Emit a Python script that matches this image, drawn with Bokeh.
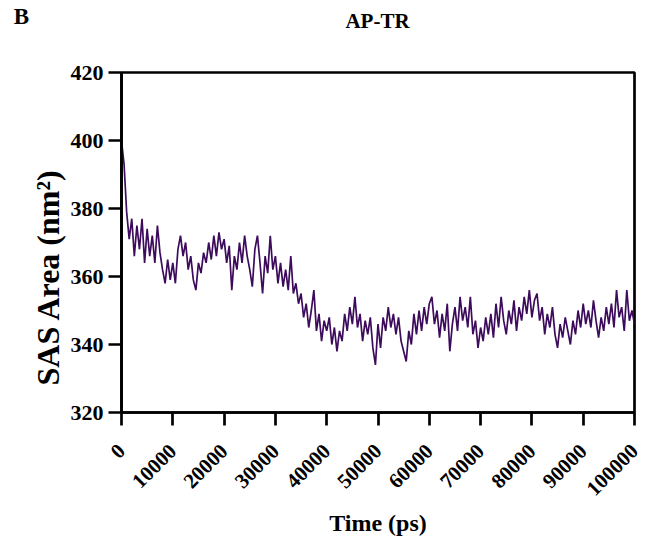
from bokeh.plotting import figure
from bokeh.models import Label, FixedTicker, BasicTickFormatter, Range1d, Title
from bokeh.layouts import column
from bokeh.embed import file_html
from bokeh.resources import INLINE
import math

time_step_ps = 500
sas_area = [
    400, 393, 379, 371, 377, 366, 375, 368, 377, 364,
    374, 366, 372, 364, 375, 367, 362, 358, 365, 359,
    364, 358, 368, 372, 366, 370, 362, 366, 359, 356,
    364, 361, 367, 364, 370, 365, 372, 366, 373, 368,
    371, 364, 369, 356, 366, 362, 370, 364, 372, 366,
    362, 357, 368, 372, 364, 355, 366, 361, 372, 362,
    366, 358, 364, 357, 362, 356, 366, 355, 358, 352,
    355, 348, 352, 345, 350, 356, 344, 349, 341, 347,
    344, 348, 340, 345, 338, 344, 341, 349, 344, 351,
    346, 354, 345, 349, 341, 347, 343, 348, 339, 334,
    346, 339, 348, 344, 351, 345, 349, 343, 348, 341,
    338, 335, 344, 340, 349, 343, 350, 344, 351, 346,
    352, 354, 346, 350, 342, 349, 344, 352, 338, 346,
    351, 344, 354, 347, 351, 345, 354, 343, 347, 339,
    345, 341, 348, 343, 349, 342, 352, 345, 354, 347,
    343, 350, 346, 353, 344, 351, 347, 354, 349, 356,
    348, 353, 355, 347, 351, 343, 349, 345, 351, 343,
    339, 346, 342, 348, 344, 340, 347, 343, 350, 345,
    352, 346, 350, 345, 353, 347, 342, 348, 344, 351,
    346, 352, 345, 356, 348, 351, 344, 356, 347, 350,
    346,
]
time_ps = [i * time_step_ps for i in range(len(sas_area))]

x_ticks = [0, 10000, 20000, 30000, 40000, 50000, 60000, 70000, 80000, 90000, 100000]
y_ticks = [320, 340, 360, 380, 400, 420]
title_text = "AP-TR"
panel_letter = "B"
x_label = "Time (ps)"
y_label = "SAS Area (nm²)"

FONT = "Liberation Serif"
HEADER_H = 60

# header strip holding the panel letter and the title (pixel coordinates)
hdr = figure(width=652, height=HEADER_H, output_backend="svg", toolbar_location=None,
             x_range=Range1d(0, 652), y_range=Range1d(HEADER_H, 0),
             x_axis_location=None, y_axis_location=None,
             min_border=0, min_border_left=0, min_border_right=0,
             min_border_top=0, min_border_bottom=0)
if "frame_align" in hdr.properties():
    hdr.frame_align = False
hdr.grid.visible = False
hdr.outline_line_color = None
hdr.add_layout(Label(x=21, y=16, text=panel_letter, text_font=FONT, text_font_style="bold",
                     text_font_size="23px", text_align="center", text_baseline="middle",
                     text_color="black"))
hdr.add_layout(Label(x=377, y=20, text=title_text, text_font=FONT, text_font_style="bold",
                     text_font_size="21px", text_align="center", text_baseline="middle",
                     text_color="black"))

p = figure(width=652, height=544 - HEADER_H, output_backend="svg", toolbar_location=None,
           x_range=(0, 100000), y_range=(320, 420),
           min_border_left=121, min_border_right=18, min_border_top=72 - HEADER_H,
           min_border_bottom=132)
if "frame_align" in p.properties():
    p.frame_align = False

p.line(time_ps, sas_area, line_color="#3d0b5c", line_width=1.7)

p.grid.visible = False
p.outline_line_color = "black"
p.outline_line_width = 2.7

for ax in (p.xaxis[0], p.yaxis[0]):
    ax.axis_line_width = 2.7
    ax.axis_line_color = "black"
    ax.major_tick_line_width = 2.7
    ax.major_tick_in = 0
    ax.major_tick_out = 13
    ax.minor_tick_line_color = None
    ax.major_label_text_font = FONT
    ax.major_label_text_font_style = "bold"
    ax.major_label_text_color = "black"
    ax.axis_label_text_font = FONT
    ax.axis_label_text_font_style = "bold"
    ax.axis_label_text_color = "black"

p.xaxis[0].major_label_text_font_size = "21px"
p.yaxis[0].major_label_text_font_size = "22px"
p.xaxis[0].ticker = FixedTicker(ticks=x_ticks)
p.xaxis[0].formatter = BasicTickFormatter(use_scientific=False)
p.yaxis[0].ticker = FixedTicker(ticks=y_ticks)
p.xaxis[0].major_label_orientation = math.pi / 4
p.xaxis[0].axis_label = x_label
p.xaxis[0].axis_label_text_font_size = "24px"
p.xaxis[0].axis_label_standoff = 5
p.xaxis[0].major_label_standoff = 22
p.yaxis[0].major_label_standoff = 5

# y-axis title as a side-panel title, started near the bottom of the axis
ytitle = Title(text=y_label, align="left", offset=27, text_font=FONT,
               text_font_style="bold", text_font_size="32px", text_color="black")
if "standoff" in Title.properties():
    ytitle.standoff = 4
p.add_layout(ytitle, "left")

open("out.html", "w").write(file_html(column(hdr, p, spacing=0), INLINE))
